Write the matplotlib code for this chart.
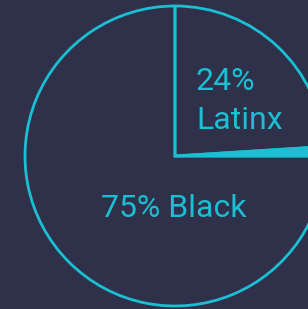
import matplotlib.pyplot as plt

# shares, counter-clockwise from 3 o'clock
labels = ["Other", "Latinx", "Black"]
shares = [1, 24, 75]
bg = "#2e3149"
cyan = "#1bbfd3"

fig = plt.figure(figsize=(3.08, 3.09), dpi=100, facecolor=bg)
ax = fig.add_axes([0, 0, 1, 1])
ax.set_facecolor(bg)

wedges, _ = ax.pie(shares, startangle=0, counterclock=True, radius=1,
                   wedgeprops=dict(linewidth=2, edgecolor=cyan, fill=False))
wedges[0].set_fill(True)
wedges[0].set_facecolor(cyan)

ax.set_xlim(-175 / 150, (308 - 175) / 150)
ax.set_ylim(-(309 - 156) / 150, 156 / 150)
ax.set_aspect("equal")
ax.axis("off")

font = ["Roboto", "DejaVu Sans"]
kw = dict(color=cyan, fontsize=23, family=font, va="baseline")
ax.text(0.14, 0.44, f"{shares[1]}%", ha="left", **kw)
ax.text(0.14, 0.18, labels[1], ha="left", **kw)
ax.text(-0.01, -0.407, f"{shares[2]}% {labels[2]}", ha="center", **kw)

fig.savefig("out.png", dpi=100, facecolor=bg)
